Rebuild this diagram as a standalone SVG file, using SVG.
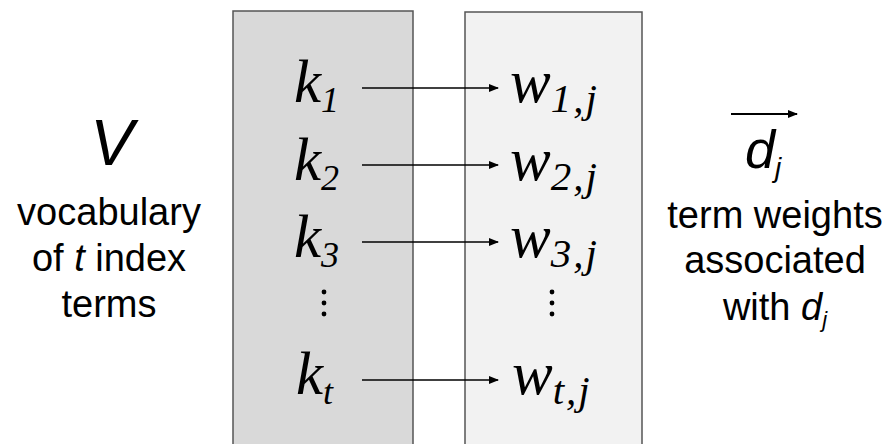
<svg xmlns="http://www.w3.org/2000/svg" width="886" height="444" viewBox="0 0 886 444">
<defs>
<marker id="ah" markerWidth="10" markerHeight="8" refX="9" refY="4" orient="auto" markerUnits="userSpaceOnUse">
<path d="M0,0 L10,4 L0,8 Z" fill="#000"/>
</marker>
<style>
.m{font-family:"Liberation Serif","Times New Roman",serif;font-style:italic;fill:#000}
.s{font-family:"Liberation Sans",Arial,sans-serif;fill:#000}
.c{stroke:#000;stroke-width:1.6;fill:none}
.d{fill:#000}
</style>
</defs>
<rect width="886" height="444" fill="#fff"/>
<g id="left-box"><rect x="233" y="11" width="180" height="440" fill="#d9d9d9" stroke="#555" stroke-width="1.5"/></g>
<g id="right-box"><rect x="465" y="12" width="177" height="440" fill="#f2f2f2" stroke="#555" stroke-width="1.5"/></g>

<g id="k1"><text class="m" x="294" y="102" font-size="61">k<tspan font-size="36" dy="10">1</tspan></text></g>
<g id="k2"><text class="m" x="294" y="180" font-size="61">k<tspan font-size="36" dy="10">2</tspan></text></g>
<g id="k3"><text class="m" x="294" y="257" font-size="61">k<tspan font-size="36" dy="10">3</tspan></text></g>
<g id="kdots"><circle class="d" cx="324" cy="292" r="2.4"/><circle class="d" cx="324" cy="303" r="2.4"/><circle class="d" cx="324" cy="314" r="2.4"/></g>
<g id="kt"><text class="m" x="296" y="394" font-size="61">k<tspan font-size="36" dy="10">t</tspan></text></g>

<g id="w1"><text class="m" x="510" y="102" font-size="61">w<tspan font-size="41" dy="10" letter-spacing="2">1,j</tspan></text></g>
<g id="w2"><text class="m" x="510" y="180" font-size="61">w<tspan font-size="41" dy="10" letter-spacing="2">2,j</tspan></text></g>
<g id="w3"><text class="m" x="510" y="257" font-size="61">w<tspan font-size="41" dy="10" letter-spacing="2">3,j</tspan></text></g>
<g id="wdots"><circle class="d" cx="552" cy="292" r="2.4"/><circle class="d" cx="552" cy="303" r="2.4"/><circle class="d" cx="552" cy="314" r="2.4"/></g>
<g id="wt"><text class="m" x="512" y="394" font-size="61">w<tspan font-size="41" dy="10" letter-spacing="2">t,j</tspan></text></g>

<g id="connectors">
<line class="c" x1="362" y1="88" x2="498" y2="88" marker-end="url(#ah)"/>
<line class="c" x1="362" y1="165" x2="498" y2="165" marker-end="url(#ah)"/>
<line class="c" x1="362" y1="242" x2="498" y2="242" marker-end="url(#ah)"/>
<line class="c" x1="362" y1="380" x2="498" y2="380" marker-end="url(#ah)"/>
</g>

<g id="vocab">
<text class="s" x="112" y="165" font-size="65" font-style="italic" text-anchor="middle">V</text>
<text class="s" x="109" y="225" font-size="38" text-anchor="middle">vocabulary</text>
<text class="s" x="109" y="271" font-size="38" text-anchor="middle">of <tspan font-style="italic">t</tspan> index</text>
<text class="s" x="109" y="317" font-size="38" text-anchor="middle">terms</text>
</g>

<g id="docvec">
<line x1="731" y1="114" x2="797" y2="114" stroke="#000" stroke-width="1.8" marker-end="url(#ah)"/>
<text class="s" x="745" y="168" font-size="54" font-style="italic">d<tspan font-size="28" dy="9">j</tspan></text>
<text class="s" x="775" y="228" font-size="38" text-anchor="middle">term weights</text>
<text class="s" x="775" y="273" font-size="38" text-anchor="middle">associated</text>
<text class="s" x="775" y="320" font-size="38" text-anchor="middle">with <tspan font-style="italic">d</tspan><tspan font-style="italic" font-size="22" dy="7">j</tspan></text>
</g>
</svg>
